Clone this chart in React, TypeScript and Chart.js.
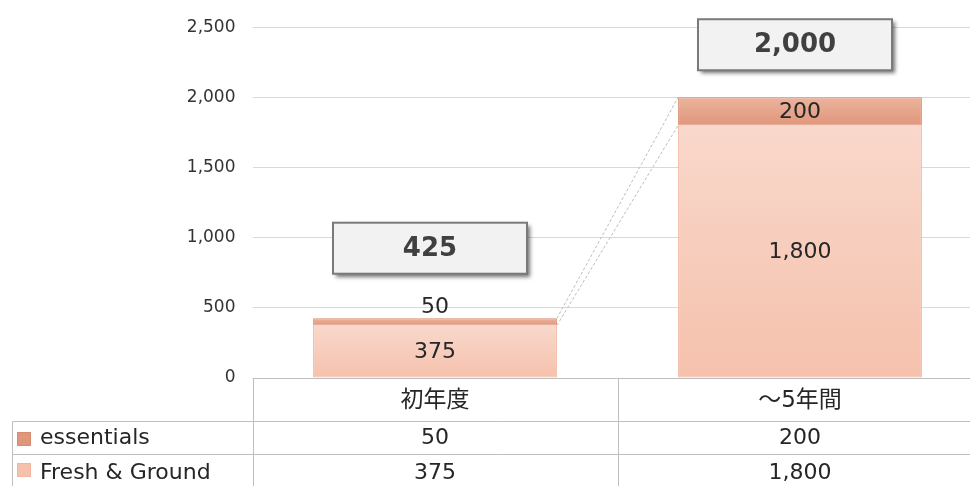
import React, { useEffect, useRef } from "react";
import { Chart, registerables } from "chart.js";

Chart.register(...registerables);

const categories = ["初年度", "～5年間"];
const freshGround = [375, 1800];
const essentials = [50, 200];
const totals = [425, 2000];
const seriesNames = ["essentials", "Fresh & Ground"];
const yMax = 2500;
const yStep = 500;

const FONT = '"DejaVu Sans", Verdana, "Noto Sans CJK JP", sans-serif';
const fmt = (v: number) => v.toLocaleString("en-US");

const COLORS = {
  freshTop: "#f9d8cb",
  freshBottom: "#f5c1ad",
  freshBorder: "#f2b49e",
  essTop: "#ebb39d",
  essBottom: "#e0967a",
  essBorder: "#d98b6e",
};

function barGradient(ctx: any, dsIndex: number, top: string, bottom: string) {
  const chart = ctx.chart;
  const y = chart.scales && chart.scales.y;
  if (!chart.chartArea || !y) return bottom;
  const i = ctx.dataIndex ?? 0;
  const start = dsIndex === 0 ? 0 : freshGround[i];
  const end = dsIndex === 0 ? freshGround[i] : freshGround[i] + essentials[i];
  const y0 = y.getPixelForValue(end);
  const y1 = y.getPixelForValue(start);
  if (!isFinite(y0) || !isFinite(y1) || y0 === y1) return bottom;
  const g = chart.ctx.createLinearGradient(0, y0, 0, y1);
  g.addColorStop(0, top);
  g.addColorStop(1, bottom);
  return g;
}

const overlayPlugin = {
  id: "overlay",
  afterDatasetsDraw(chart: any) {
    const ctx = chart.ctx;
    const metaFresh = chart.getDatasetMeta(0);
    const metaEss = chart.getDatasetMeta(1);
    const yScale = chart.scales.y;

    const e0 = metaEss.data[0];
    const e1 = metaEss.data[1];
    if (e0 && e1) {
      const x0 = e0.x + e0.width / 2;
      const x1 = e1.x - e1.width / 2;
      ctx.save();
      ctx.strokeStyle = "#bdbdbd";
      ctx.lineWidth = 1;
      ctx.setLineDash([3, 2]);
      ctx.beginPath();
      ctx.moveTo(x0, e0.y);
      ctx.lineTo(x1, e1.y);
      ctx.moveTo(x0, e0.base);
      ctx.lineTo(x1, e1.base);
      ctx.stroke();
      ctx.restore();
    }

    ctx.save();
    ctx.font = `22px ${FONT}`;
    ctx.fillStyle = "#262626";
    ctx.textAlign = "center";
    ctx.textBaseline = "middle";
    [metaFresh, metaEss].forEach((meta: any, di: number) => {
      const vals = di === 0 ? freshGround : essentials;
      meta.data.forEach((el: any, i: number) => {
        const h = Math.abs(el.base - el.y);
        const cy = h < 25 ? el.y - 12 : (el.y + el.base) / 2;
        ctx.fillText(fmt(vals[i]), el.x, cy + 1);
      });
    });
    ctx.restore();

    const boxAnchors = [925, 2375];
    const boxW = 194;
    const boxH = 51;
    metaEss.data.forEach((el: any, i: number) => {
      const cx = el.x - 5;
      const cy = yScale.getPixelForValue(boxAnchors[i]);
      const bx = cx - boxW / 2;
      const by = cy - boxH / 2;
      ctx.save();
      ctx.shadowColor = "rgba(0,0,0,0.55)";
      ctx.shadowBlur = 4;
      ctx.shadowOffsetX = 3;
      ctx.shadowOffsetY = 3;
      ctx.fillStyle = "#f2f2f2";
      ctx.fillRect(bx, by, boxW, boxH);
      ctx.restore();
      ctx.save();
      ctx.strokeStyle = "#7a7a7a";
      ctx.lineWidth = 2;
      ctx.strokeRect(bx, by, boxW, boxH);
      ctx.font = `bold 26px ${FONT}`;
      ctx.fillStyle = "#404040";
      ctx.textAlign = "center";
      ctx.textBaseline = "middle";
      ctx.fillText(fmt(totals[i]), cx, cy + 1);
      ctx.restore();
    });
  },
  afterDraw(chart: any) {
    const ctx = chart.ctx;
    const area = chart.chartArea;
    const left = area.left;
    const right = area.right;
    const colW = (right - left) / categories.length;
    const axisY = Math.round(area.bottom) + 0.5;
    const row1 = 421.5;
    const row2 = 454.5;
    const tableLeft = 12.5;
    const bottom = 500;

    ctx.save();
    ctx.strokeStyle = "#bfbfbf";
    ctx.lineWidth = 1;
    ctx.beginPath();
    ctx.moveTo(left, axisY);
    ctx.lineTo(right, axisY);
    ctx.moveTo(tableLeft, row1);
    ctx.lineTo(right, row1);
    ctx.moveTo(tableLeft, row2);
    ctx.lineTo(right, row2);
    ctx.moveTo(tableLeft, row1);
    ctx.lineTo(tableLeft, bottom);
    for (let c = 0; c <= categories.length; c++) {
      const x = Math.round(left + c * colW) + 0.5;
      ctx.moveTo(x, axisY);
      ctx.lineTo(x, bottom);
    }
    ctx.stroke();

    ctx.fillStyle = "#262626";
    ctx.textAlign = "center";
    ctx.textBaseline = "middle";
    ctx.font = `23px ${FONT}`;
    categories.forEach((c, i) => {
      ctx.fillText(c, left + (i + 0.5) * colW, 401);
    });
    ctx.font = `22px ${FONT}`;
    const rows = [essentials, freshGround];
    const rowY = [438.5, 473];
    rows.forEach((vals, r) => {
      vals.forEach((v, i) => {
        ctx.fillText(fmt(v), left + (i + 0.5) * colW, rowY[r]);
      });
    });

    const keyFill = [COLORS.essBottom, COLORS.freshBottom];
    const keyBorder = [COLORS.essBorder, COLORS.freshBorder];
    const keyY = [432, 463];
    ctx.textAlign = "left";
    seriesNames.forEach((n, r) => {
      ctx.fillStyle = keyFill[r];
      ctx.fillRect(17, keyY[r], 14, 14);
      ctx.strokeStyle = keyBorder[r];
      ctx.strokeRect(17.5, keyY[r] + 0.5, 13, 13);
      ctx.fillStyle = "#262626";
      ctx.fillText(n, 40, rowY[r]);
    });
    ctx.restore();
  },
};

export default function App() {
  const ref = useRef<HTMLCanvasElement>(null);
  useEffect(() => {
    if (!ref.current) return;
    const chart = new Chart(ref.current, {
      type: "bar",
      data: {
        labels: categories,
        datasets: [
          {
            label: seriesNames[1],
            data: freshGround,
            backgroundColor: (c: any) => barGradient(c, 0, COLORS.freshTop, COLORS.freshBottom),
            borderColor: COLORS.freshBorder,
            borderWidth: 1,
            borderSkipped: false,
            categoryPercentage: 1,
            barPercentage: 0.668,
          },
          {
            label: seriesNames[0],
            data: essentials,
            backgroundColor: (c: any) => barGradient(c, 1, COLORS.essTop, COLORS.essBottom),
            borderColor: COLORS.essBorder,
            borderWidth: 1,
            borderSkipped: false,
            categoryPercentage: 1,
            barPercentage: 0.668,
          },
        ],
      },
      options: {
        animation: false,
        responsive: false,
        devicePixelRatio: 1,
        layout: { padding: { top: 25, bottom: 108, left: 0, right: 1.5 } },
        plugins: {
          legend: { display: false },
          tooltip: { enabled: false },
        },
        scales: {
          x: { stacked: true, display: false },
          y: {
            stacked: true,
            min: 0,
            max: yMax,
            afterFit: (s: any) => {
              s.width = 252.5;
            },
            ticks: {
              stepSize: yStep,
              padding: 17,
              color: "#333333",
              font: { family: FONT, size: 17 },
              callback: (v: any) => fmt(Number(v)),
            },
            grid: { color: "#d9d9d9", drawTicks: false },
            border: { display: false },
          },
        },
      },
      plugins: [overlayPlugin],
    });
    return () => chart.destroy();
  }, []);
  return (
    <div
      style={{
        position: "fixed",
        left: 0,
        top: 0,
        width: 970,
        height: 486,
        overflow: "hidden",
        background: "#fff",
      }}
    >
      <canvas ref={ref} width={984} height={486} style={{ width: 984, height: 486, display: "block" }} />
    </div>
  );
}
